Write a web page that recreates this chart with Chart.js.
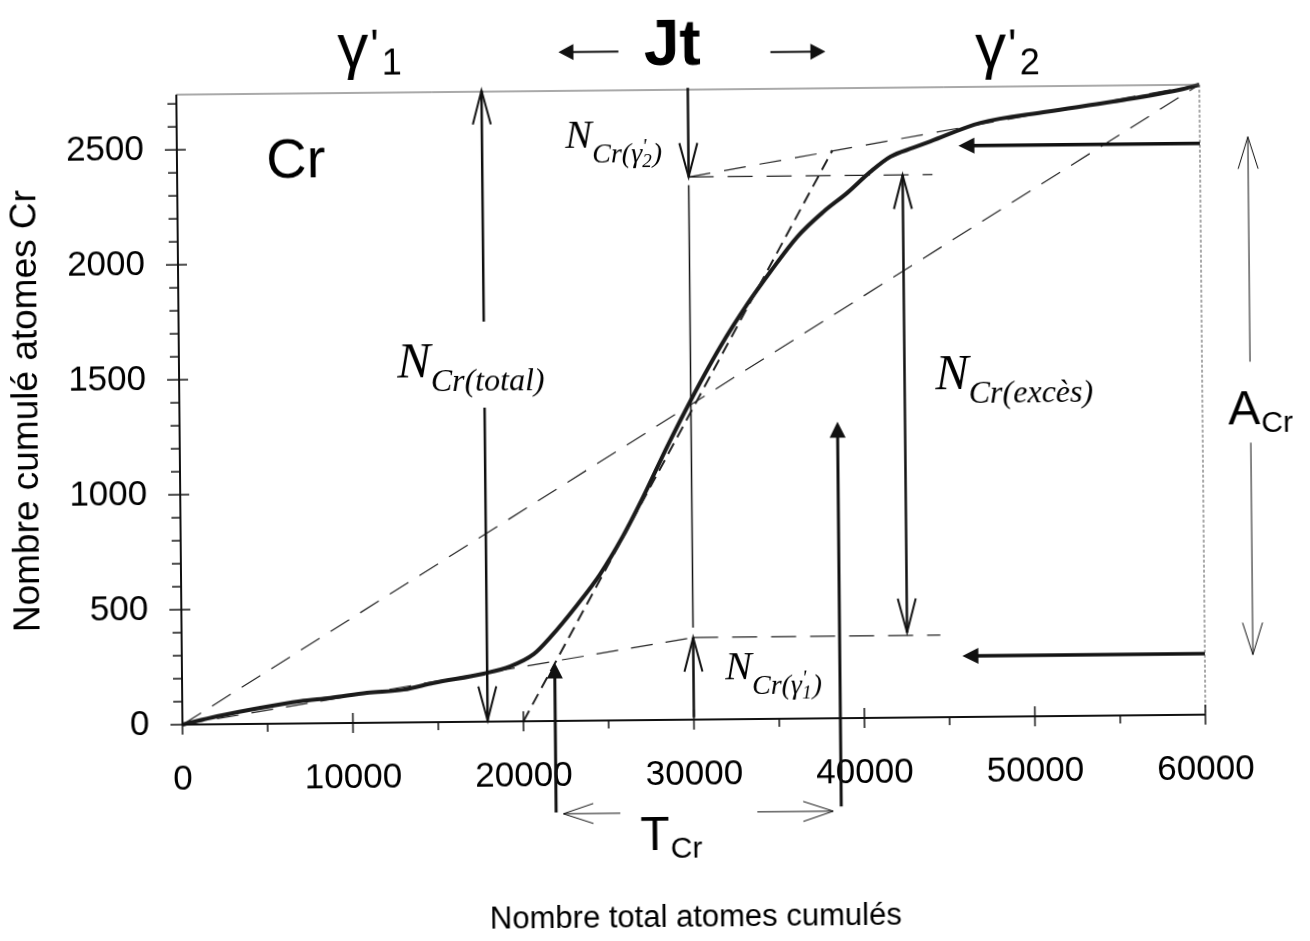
<!DOCTYPE html>
<html>
<head>
<meta charset="utf-8">
<script src="https://cdn.jsdelivr.net/npm/chart.js@4"></script>
<style>
  html, body { margin: 0; padding: 0; background: #fff; overflow: hidden; }
  #wrap { width: 1310px; height: 941px; transform: rotate(-0.56deg); transform-origin: 655px 470px; }
</style>
</head>
<body>
<div id="wrap"><canvas id="chart" width="1310" height="941"></canvas></div>
<script>
// Courbe cumulée Cr
const curveX = [0, 2035, 4575, 6927, 8692, 10845, 12997, 14757, 17695, 19267, 20640, 21630, 23226, 24574,
  25929, 27161, 28598, 30011, 31765, 33372, 34745, 36346, 37883, 39301, 40662, 41847, 43202, 44200,
  47144, 51077, 54954, 58890, 60000];
const curveY = [0, 35, 70, 97, 110, 130, 143, 171, 209, 240, 292, 365, 505, 636,
  799, 972, 1190, 1391, 1621, 1805, 1945, 2096, 2203, 2285, 2375, 2440, 2478, 2505,
  2583, 2629, 2670, 2719, 2740];

// Droites de construction
const diagX = [0, 60000];
const diagY = [0, 2740];
const gamma1X = [0, 30000];
const gamma1Y = [0, 357];
const level1X = [30000, 44500];
const level1Y = [357, 357];
const gamma2X = [30000, 60000];
const gamma2Y = [2360, 2740];
const level2X = [30000, 44300];
const level2Y = [2360, 2360];
const jtX = [20000, 38450];
const jtY = [0, 2470];

// Axes
const xMax = 60000, yMax = 2740;
const xTicks = [0, 10000, 20000, 30000, 40000, 50000, 60000];
const yTicks = [0, 500, 1000, 1500, 2000, 2500];
const xMinor = 5000, yMinor = 100;

const pts = (xs, ys) => xs.map((v, i) => ({x: v, y: ys[i]}));

const SANS = '"Liberation Sans", Arial, sans-serif';
const SERIF = '"Liberation Serif", "Times New Roman", serif';

// Flèches (coordonnées en unités des axes)
const arrows = [
  // N Cr(total)
  {x1: 17900, y1: 1740, x2: 17900, y2: 2745, w: 2.5, head: 'open'},
  {x1: 17900, y1: 1366, x2: 17900, y2: 5, w: 2.5, head: 'open'},
  // Jt vertical
  {x1: 30000, y1: 2748, x2: 30000, y2: 2360, w: 2.5, head: 'open'},
  {x1: 30000, y1: 2325, x2: 30000, y2: 400, w: 1.5, head: 'none'},
  {x1: 30000, y1: 10, x2: 30000, y2: 357, w: 2.5, head: 'open'},
  // N Cr(excès)
  {x1: 42550, y1: 370, x2: 42550, y2: 2360, w: 2.5, head: 'open', both: true},
  // flèches horizontales depuis la droite
  {x1: 60000, y1: 2485, x2: 45840, y2: 2485, w: 3.5, head: 'filled'},
  {x1: 60000, y1: 265, x2: 45780, y2: 265, w: 3.5, head: 'filled'},
  // T Cr
  {x1: 21865, y1: -398, x2: 21865, y2: 254, w: 3, head: 'filled'},
  {x1: 38590, y1: -384, x2: 38590, y2: 1290, w: 3, head: 'filled'},
  {x1: 25630, y1: -404, x2: 22290, y2: -404, w: 1, head: 'open', hl: 30, hw: 10},
  {x1: 33665, y1: -404, x2: 38120, y2: -404, w: 1, head: 'open', hl: 30, hw: 10},
  // A Cr
  {x1: 62818, y1: 1533, x2: 62818, y2: 2511, w: 1, head: 'open', hl: 32, hw: 10},
  {x1: 62818, y1: 1181, x2: 62818, y2: 259, w: 1, head: 'open', hl: 32, hw: 10},
  // <- Jt ->
  {x1: 25953, y1: 2908, x2: 22434, y2: 2908, w: 2, head: 'filled', hl: 15, hw: 8},
  {x1: 34868, y1: 2900, x2: 38094, y2: 2900, w: 2, head: 'filled', hl: 15, hw: 8}
];

// Textes (ancre = gauche / ligne de base du premier morceau)
const texts = [
  {x: 5237, y: 2375, parts: [{t: 'Cr', f: '56px ' + SANS}]},
  {x: 27450, y: 2850, parts: [{t: 'Jt', f: 'bold 64px ' + SANS}]},
  {x: 9466, y: 2854, parts: [{t: 'γ', f: '62px ' + SANS}, {t: "'", f: '44px ' + SANS, dx: 2, dy: -6}, {t: '1', f: '36px ' + SANS, dx: 3, dy: 8}]},
  {x: 46879, y: 2827, parts: [{t: 'γ', f: '62px ' + SANS}, {t: "'", f: '44px ' + SANS, dx: 2, dy: -6}, {t: '2', f: '36px ' + SANS, dx: 3, dy: 8}]},
  {x: 12803, y: 1500, parts: [{t: 'N', f: 'italic 50px ' + SERIF}, {t: 'Cr(total)', f: 'italic 32px ' + SERIF, dy: 14}]},
  {x: 44350, y: 1425, parts: [{t: 'N', f: 'italic 50px ' + SERIF}, {t: 'Cr(excès)', f: 'italic 32px ' + SERIF, dy: 14}]},
  {x: 22791, y: 2493, parts: [{t: 'N', f: 'italic 40px ' + SERIF}, {t: 'Cr(γ', f: 'italic 28px ' + SERIF, dy: 15},
    {t: "'", f: 'italic 20px ' + SERIF, dy: 6, stay: true}, {t: '2', f: 'italic 19px ' + SERIF, dy: 20}, {t: ')', f: 'italic 28px ' + SERIF, dx: 1, dy: 15}]},
  {x: 31865, y: 173, parts: [{t: 'N', f: 'italic 40px ' + SERIF}, {t: 'Cr(γ', f: 'italic 28px ' + SERIF, dy: 15},
    {t: "'", f: 'italic 20px ' + SERIF, dy: 6, stay: true}, {t: '1', f: 'italic 19px ' + SERIF, dy: 20}, {t: ')', f: 'italic 28px ' + SERIF, dx: 1, dy: 15}]},
  {x: 26785, y: -564, parts: [{t: 'T', f: '48px ' + SANS}, {t: 'Cr', f: '30px ' + SANS, dx: 1, dy: 8}]},
  {x: 61512, y: 1260, parts: [{t: 'A', f: '48px ' + SANS}, {t: 'Cr', f: '30px ' + SANS, dx: 1, dy: 8}]}
];

function drawArrow(ctx, x1, y1, x2, y2, a) {
  const dx = x2 - x1, dy = y2 - y1;
  const len = Math.hypot(dx, dy);
  const ux = dx / len, uy = dy / len;
  const filled = a.head === 'filled';
  const hl = a.hl || (filled ? 16 : 34);
  const hw = a.hw || (filled ? 8 : 9);
  ctx.lineWidth = a.w;
  ctx.setLineDash([]);
  ctx.beginPath();
  const ex = filled ? x2 - ux * hl * 0.8 : x2;
  const ey = filled ? y2 - uy * hl * 0.8 : y2;
  ctx.moveTo(x1, y1);
  ctx.lineTo(ex, ey);
  ctx.stroke();
  const head = (tx, ty, vx, vy) => {
    const bx = tx - vx * hl, by = ty - vy * hl;
    const px = -vy * hw, py = vx * hw;
    ctx.beginPath();
    if (filled) {
      ctx.moveTo(tx, ty);
      ctx.lineTo(bx + px, by + py);
      ctx.lineTo(bx - px, by - py);
      ctx.closePath();
      ctx.fill();
    } else {
      ctx.lineWidth = Math.max(1, a.w * 0.8);
      ctx.moveTo(bx + px, by + py);
      ctx.lineTo(tx, ty);
      ctx.lineTo(bx - px, by - py);
      ctx.stroke();
    }
  };
  if (a.head !== 'none') {
    head(x2, y2, ux, uy);
    if (a.both) head(x1, y1, -ux, -uy);
  }
}

const annotate = {
  id: 'annotate',
  afterDraw(chart) {
    const {ctx, chartArea: area, scales: {x, y}} = chart;
    const X = v => x.getPixelForValue(v);
    const Y = v => y.getPixelForValue(v);
    ctx.save();
    ctx.fillStyle = '#111';

    // cadre haut / droit
    ctx.lineWidth = 1;
    ctx.strokeStyle = '#555';
    ctx.beginPath();
    ctx.moveTo(area.left, area.top); ctx.lineTo(area.right, area.top);
    ctx.stroke();
    ctx.setLineDash([3, 2]);
    ctx.beginPath();
    ctx.moveTo(area.right, area.top); ctx.lineTo(area.right, area.bottom);
    ctx.stroke();
    ctx.setLineDash([]);

    // axes
    ctx.strokeStyle = '#111';
    ctx.lineWidth = 2;
    ctx.beginPath();
    ctx.moveTo(area.left, area.top); ctx.lineTo(area.left, area.bottom); ctx.lineTo(area.right, area.bottom);
    ctx.stroke();

    // graduations
    ctx.lineWidth = 1.5;
    for (let v = 0; v <= xMax; v += xMinor) {
      const px = X(v), major = xTicks.includes(v);
      ctx.beginPath();
      ctx.moveTo(px, area.bottom - (major ? 10 : 0));
      ctx.lineTo(px, area.bottom + (major ? 10 : 8));
      ctx.stroke();
    }
    for (let v = 0; v <= yMax; v += yMinor) {
      const py = Y(v), major = yTicks.includes(v);
      ctx.beginPath();
      ctx.moveTo(area.left - (major ? 12 : 9), py);
      ctx.lineTo(area.left + (major ? 9 : 0), py);
      ctx.stroke();
    }

    // flèches
    arrows.forEach(a => drawArrow(ctx, X(a.x1), Y(a.y1), X(a.x2), Y(a.y2), a));

    // textes
    ctx.textBaseline = 'alphabetic';
    ctx.textAlign = 'left';
    ctx.fillStyle = '#000';
    texts.forEach(tx => {
      let cx = X(tx.x);
      const cy = Y(tx.y);
      tx.parts.forEach(p => {
        ctx.font = p.f;
        ctx.fillText(p.t, cx + (p.dx || 0), cy + (p.dy || 0));
        if (!p.stay) cx += ctx.measureText(p.t).width + (p.dx || 0);
      });
    });
    ctx.restore();
  }
};

const dashed = (data, dash, w) => ({
  data, showLine: true, pointRadius: 0, borderColor: '#222', borderWidth: w || 1.2,
  borderDash: dash, clip: false, fill: false
});

new Chart(document.getElementById('chart').getContext('2d'), {
  type: 'scatter',
  data: {
    datasets: [
      dashed(pts(diagX, diagY), [22, 13]),
      dashed(pts(gamma1X, gamma1Y), [22, 13]),
      dashed(pts(level1X, level1Y), [25, 14]),
      dashed(pts(gamma2X, gamma2Y), [22, 14]),
      dashed(pts(level2X, level2Y), [25, 14]),
      dashed(pts(jtX, jtY), [12, 7], 2),
      {
        data: pts(curveX, curveY), showLine: true, pointRadius: 0,
        borderColor: '#1a1a1a', borderWidth: 4, cubicInterpolationMode: 'monotone', clip: false
      }
    ]
  },
  options: {
    responsive: false,
    animation: false,
    layout: { padding: { top: 90, right: 107, left: 0, bottom: 0 } },
    plugins: { legend: { display: false }, tooltip: { enabled: false } },
    scales: {
      x: {
        type: 'linear', min: 0, max: xMax,
        afterFit: s => { s.height = 221; },
        afterBuildTicks: s => { s.ticks = xTicks.map(v => ({value: v})); },
        grid: { display: false }, border: { display: false },
        ticks: {
          padding: 26, color: '#000', maxRotation: 0, autoSkip: false,
          font: { family: SANS, size: 35 }, callback: v => String(v)
        },
        title: {
          display: true, text: 'Nombre total atomes cumulés', color: '#000',
          font: { family: SANS, size: 31 }, padding: { top: 0, bottom: 4 }
        }
      },
      y: {
        type: 'linear', min: 0, max: yMax,
        afterFit: s => { s.width = 180; },
        afterBuildTicks: s => { s.ticks = yTicks.map(v => ({value: v})); },
        grid: { display: false }, border: { display: false },
        ticks: {
          padding: 25, color: '#000', autoSkip: false,
          font: { family: SANS, size: 35 }, callback: v => String(v)
        },
        title: {
          display: true, text: 'Nombre cumulé atomes Cr', color: '#000',
          font: { family: SANS, size: 37 }, padding: { top: 6, bottom: 0 }
        }
      }
    }
  },
  plugins: [annotate]
});
</script>
